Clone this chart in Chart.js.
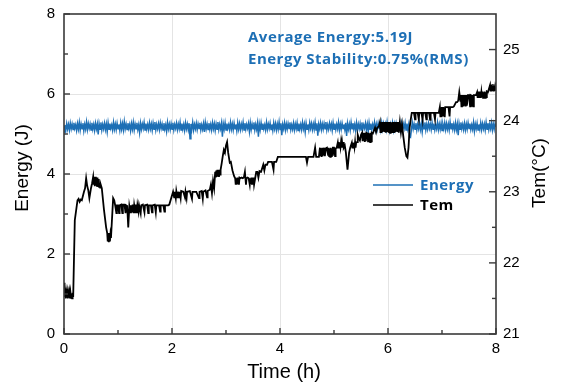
<!DOCTYPE html>
<html>
<head>
<meta charset="utf-8">
<script src="https://cdn.jsdelivr.net/npm/chart.js@4.4.1/dist/chart.umd.min.js"></script>
<style>
  html, body { margin: 0; padding: 0; background: #ffffff; }
  #wrap { width: 562px; height: 388px; }
</style>
</head>
<body>
<div id="wrap"><canvas id="chart" width="562" height="388"></canvas></div>
<script>
// Pulse energy log: one reading per minute over 8 hours (J)
const energyIntervalHours = 1 / 60;
const energyValues = [
  5.05, 5.22, 5.09, 5.26, 5.12, 5.24, 5.10, 5.27, 5.13, 5.25,
  5.11, 5.28, 5.14, 5.23, 5.09, 5.26, 5.12, 5.29, 5.10, 5.25,
  5.13, 5.27, 5.08, 5.24, 5.12, 5.30, 5.11, 5.26, 5.14, 5.25,
  5.10, 5.28, 5.12, 5.24, 5.09, 5.27, 5.13, 5.25, 4.99, 5.26,
  5.12, 5.29, 5.10, 5.24, 5.13, 5.27, 5.11, 5.25, 5.06, 5.28,
  5.12, 5.26, 5.14, 5.23, 5.10, 5.29, 5.12, 5.25, 5.11, 5.27,
  5.13, 5.24, 5.09, 5.28, 5.12, 5.26, 5.10, 5.31, 5.13, 5.25,
  5.11, 5.27, 5.14, 5.24, 5.08, 5.26, 5.12, 5.29, 5.10, 5.25,
  5.13, 5.28, 5.11, 5.23, 5.04, 5.27, 5.12, 5.25, 5.14, 5.29,
  5.10, 5.26, 5.12, 5.24, 5.11, 5.28, 5.13, 5.25, 5.09, 5.27,
  5.12, 5.30, 5.10, 5.24, 5.13, 5.26, 5.11, 5.28, 5.14, 5.25,
  5.10, 5.27, 5.12, 5.23, 5.07, 5.29, 5.13, 5.25, 5.11, 5.26,
  5.12, 5.28, 5.10, 5.24, 5.14, 5.27, 5.11, 5.25, 5.13, 5.29,
  5.10, 5.26, 5.12, 5.24, 5.09, 5.28, 5.13, 5.25, 5.11, 5.27,
  4.88, 5.25, 5.12, 5.29, 5.10, 5.24, 5.13, 5.27, 5.11, 5.25,
  5.14, 5.28, 5.10, 5.23, 5.12, 5.26, 5.05, 5.29, 5.13, 5.25,
  5.11, 5.27, 5.12, 5.24, 5.10, 5.28, 5.13, 5.26, 5.09, 5.25,
  5.12, 5.30, 5.11, 5.24, 5.13, 5.27, 4.93, 5.25, 5.12, 5.28,
  5.10, 5.26, 5.14, 5.23, 5.11, 5.29, 5.12, 5.25, 5.10, 5.27,
  5.13, 5.24, 5.08, 5.28, 5.12, 5.26, 5.11, 5.25, 5.13, 5.29,
  5.10, 5.27, 5.12, 5.24, 5.14, 5.26, 5.06, 5.28, 5.11, 5.25,
  5.13, 5.29, 5.10, 5.24, 5.12, 5.27, 4.93, 5.25, 5.11, 5.28,
  5.12, 5.26, 5.13, 5.23, 5.10, 5.29, 5.12, 5.25, 5.14, 5.27,
  5.11, 5.24, 5.09, 5.28, 5.13, 5.26, 5.10, 5.25, 5.12, 5.30,
  5.11, 5.27, 4.97, 5.24, 5.13, 5.28, 5.10, 5.25, 5.12, 5.26,
  5.14, 5.29, 5.11, 5.23, 5.12, 5.27, 5.10, 5.25, 5.13, 5.28,
  5.09, 5.26, 5.12, 5.24, 5.11, 5.29, 5.13, 5.25, 5.05, 5.27,
  5.12, 5.24, 5.10, 5.28, 5.14, 5.26, 5.11, 5.25, 5.12, 5.29,
  5.10, 5.27, 4.96, 5.24, 5.13, 5.28, 5.11, 5.25, 5.12, 5.26,
  5.13, 5.30, 5.10, 5.23, 5.12, 5.27, 5.14, 5.25, 5.09, 5.28,
  5.12, 5.26, 5.11, 5.24, 5.13, 5.29, 5.10, 5.25, 5.12, 5.27,
  5.14, 5.24, 5.11, 5.28, 4.95, 5.26, 5.12, 5.25, 5.10, 5.29,
  5.13, 5.27, 5.12, 5.24, 5.09, 5.28, 5.11, 5.25, 5.13, 5.26,
  5.10, 5.29, 5.12, 5.23, 5.14, 5.27, 5.11, 5.25, 5.06, 5.28,
  5.12, 5.26, 5.10, 5.24, 5.13, 5.29, 5.11, 5.25, 5.12, 5.27,
  5.14, 5.24, 5.10, 5.28, 5.12, 5.26, 5.13, 5.25, 5.11, 5.30,
  5.12, 5.27, 5.09, 5.24, 5.13, 5.28, 5.10, 5.25, 5.12, 5.26,
  5.11, 5.29, 5.13, 5.23, 5.10, 5.27, 5.12, 5.25, 5.14, 5.28,
  5.10, 5.26, 5.12, 5.24, 4.94, 4.92, 5.11, 5.29, 5.13, 5.25,
  5.12, 5.27, 5.10, 5.24, 5.13, 5.28, 5.11, 5.25, 5.05, 5.26,
  5.13, 5.29, 5.10, 5.24, 5.12, 5.27, 5.14, 5.25, 5.11, 5.28,
  5.12, 5.26, 5.10, 5.23, 5.13, 5.29, 5.11, 5.25, 5.12, 5.27,
  5.09, 5.24, 5.13, 5.28, 5.11, 5.26, 5.12, 5.25, 5.10, 5.30,
  5.13, 5.27, 5.12, 5.24, 5.10, 5.28, 5.11, 5.25, 4.97, 5.26,
  5.12, 5.29, 5.13, 5.24, 5.11, 5.27, 5.10, 5.25, 5.12, 5.28,
  5.14, 5.26, 5.11, 5.23, 5.12, 5.29, 5.07, 5.25, 5.13, 5.27,
  5.10, 5.24, 5.12, 5.28, 5.11, 5.26, 5.13, 5.25, 5.10, 5.29,
  5.12, 5.27, 5.11, 5.24, 5.13, 5.28, 5.10, 5.25, 5.12, 5.26,
  5.18
];

// Room temperature log: time (h) and temperature (°C)
const temTime = [
  0.00, 0.01, 0.02, 0.03, 0.04, 0.05, 0.06, 0.07, 0.08, 0.09, 0.10, 0.11, 0.12, 0.13, 0.14, 0.15, 0.16, 0.17,
  0.20, 0.25, 0.27, 0.29, 0.31, 0.33, 0.37, 0.39, 0.41, 0.43, 0.45, 0.47, 0.50, 0.52, 0.54,
  0.55, 0.56, 0.57, 0.58, 0.59, 0.60, 0.61, 0.62, 0.63, 0.64, 0.65, 0.66, 0.67, 0.68, 0.70,
  0.74, 0.78, 0.80, 0.81, 0.82, 0.83, 0.84, 0.85, 0.86, 0.87, 0.91,
  0.93, 0.95, 0.97, 0.98, 1.00, 1.02, 1.03, 1.06, 1.08, 1.09, 1.12, 1.14, 1.15, 1.17, 1.19, 1.21,
  1.23, 1.24, 1.26, 1.27, 1.29, 1.30, 1.32, 1.33, 1.35, 1.36, 1.38, 1.39, 1.42, 1.43, 1.46, 1.49,
  1.50, 1.54, 1.56, 1.57, 1.61, 1.63, 1.64, 1.68, 1.70, 1.71, 1.76, 1.78, 1.79, 1.84, 1.86, 1.87, 1.93,
  1.95, 2.02, 2.04, 2.05, 2.07, 2.08, 2.10, 2.11, 2.13, 2.14, 2.16, 2.17, 2.21, 2.24, 2.25, 2.27,
  2.28, 2.33, 2.37, 2.38, 2.45, 2.50, 2.51, 2.55, 2.57, 2.58, 2.62, 2.65, 2.66, 2.70,
  2.72, 2.74, 2.76, 2.78, 2.80, 2.81, 2.82, 2.83, 2.84, 2.85, 2.86, 2.87, 2.88, 2.89, 2.90,
  2.92, 2.94, 2.96, 2.98, 3.00, 3.02, 3.04, 3.07, 3.09, 3.12, 3.15, 3.17,
  3.18, 3.19, 3.20, 3.21, 3.22, 3.23, 3.24, 3.25, 3.27, 3.29, 3.31, 3.33, 3.35, 3.36, 3.37, 3.38,
  3.40, 3.42, 3.44, 3.45, 3.46, 3.47, 3.48, 3.49, 3.50, 3.51, 3.52, 3.54, 3.56, 3.58, 3.60, 3.62,
  3.65, 3.69, 3.71, 3.73, 3.76, 3.78, 3.82, 3.85, 3.88, 3.89, 3.93, 3.96, 4.00,
  4.05, 4.20, 4.35, 4.48, 4.50, 4.52, 4.62, 4.65, 4.67, 4.72, 4.74, 4.75, 4.76, 4.77, 4.78, 4.79,
  4.80, 4.81, 4.82, 4.83, 4.85, 4.87, 4.89, 4.90, 4.91, 4.92, 4.93, 4.94, 4.95, 4.96, 4.97, 4.98,
  5.00, 5.02, 5.03, 5.05, 5.07, 5.08, 5.09, 5.10, 5.11, 5.12, 5.13, 5.14, 5.15, 5.16, 5.17, 5.18,
  5.20, 5.22, 5.25, 5.28, 5.30, 5.33, 5.34, 5.35, 5.36, 5.37, 5.38, 5.39, 5.40, 5.41, 5.43,
  5.44, 5.46, 5.48, 5.50, 5.52, 5.53, 5.54, 5.55, 5.56, 5.57, 5.58, 5.59, 5.60, 5.62, 5.63, 5.64,
  5.65, 5.66, 5.67, 5.68, 5.69, 5.70, 5.72, 5.76, 5.78, 5.80, 5.83,
  5.85, 5.86, 5.87, 5.88, 5.89, 5.90, 5.91, 5.92, 5.93, 5.94, 5.95, 5.96, 5.97, 5.98, 5.99, 6.00,
  6.01, 6.02, 6.03, 6.04, 6.05, 6.06, 6.07, 6.08, 6.09, 6.10, 6.11, 6.12, 6.13, 6.14, 6.15, 6.16,
  6.17, 6.18, 6.19, 6.20, 6.22, 6.24, 6.26, 6.28, 6.31, 6.34, 6.36, 6.38, 6.40, 6.42, 6.44,
  6.48, 6.50, 6.51, 6.55, 6.57, 6.58, 6.62, 6.64, 6.65, 6.69, 6.71, 6.72, 6.76, 6.78, 6.79,
  6.85, 6.87, 6.88, 6.94, 6.96,
  6.97, 6.98, 6.99, 7.00, 7.01, 7.02, 7.03, 7.04, 7.05, 7.06, 7.08, 7.10, 7.12, 7.14, 7.15, 7.17,
  7.20, 7.22, 7.26, 7.28, 7.30, 7.32, 7.34, 7.35, 7.36, 7.37, 7.38, 7.39, 7.40, 7.41, 7.42, 7.43,
  7.44, 7.45, 7.46, 7.48, 7.50, 7.52, 7.53, 7.55, 7.56, 7.57, 7.58, 7.59, 7.61, 7.63,
  7.65, 7.66, 7.67, 7.68, 7.69, 7.70, 7.71, 7.72, 7.73, 7.74, 7.75, 7.76, 7.77, 7.78, 7.79, 7.80,
  7.81, 7.82, 7.83, 7.85, 7.87, 7.89, 7.90, 7.91, 7.92, 7.93, 7.94, 7.95, 7.96, 7.97, 7.98, 7.99, 8.00
];
const temValues = [
  21.72, 21.52, 21.58, 21.50, 21.58, 21.51, 21.58, 21.50, 21.57, 21.51, 21.58, 21.50, 21.58, 21.51, 21.57, 21.50, 21.58, 21.52,
  22.60, 22.88, 22.90, 22.86, 22.89, 22.88, 23.00, 23.05, 23.19, 23.08, 23.02, 22.91, 23.05, 23.12, 23.21,
  23.10, 23.20, 23.08, 23.21, 23.09, 23.19, 23.07, 23.20, 23.08, 23.18, 23.07, 23.12, 23.06, 23.10, 23.05,
  22.75, 22.50, 22.42, 22.30, 22.42, 22.29, 22.41, 22.30, 22.40, 22.35, 22.91,
  22.88, 22.80, 22.70, 22.81, 22.81, 22.70, 22.81, 22.82, 22.70, 22.82, 22.82, 22.70, 22.81, 22.80, 22.50, 22.80,
  22.71, 22.81, 22.72, 22.82, 22.70, 22.81, 22.71, 22.82, 22.70, 22.81, 22.72, 22.81, 22.70, 22.81, 22.82, 22.71,
  22.81, 22.82, 22.70, 22.81, 22.81, 22.71, 22.81, 22.82, 22.71, 22.81, 22.81, 22.72, 22.81, 22.81, 22.72, 22.81, 22.81,
  22.82, 23.00, 22.92, 23.00, 22.91, 23.01, 22.92, 23.00, 22.92, 23.00, 22.91, 23.01, 23.00, 22.92, 23.00, 22.91,
  23.00, 23.01, 22.90, 23.00, 23.00, 22.91, 23.00, 23.01, 22.90, 23.00, 23.02, 22.92, 23.01, 23.03,
  23.10, 22.98, 23.15, 23.05, 23.28, 23.20, 23.30, 23.21, 23.31, 23.22, 23.30, 23.21, 23.31, 23.24, 23.31,
  23.40, 23.50, 23.59, 23.55, 23.65, 23.70, 23.55, 23.41, 23.42, 23.30, 23.22, 23.19,
  23.10, 23.19, 23.10, 23.20, 23.11, 23.19, 23.10, 23.20, 23.19, 23.20, 23.19, 23.20, 23.28, 23.19, 23.10, 23.19,
  23.20, 23.19, 23.10, 23.19, 23.11, 23.20, 23.10, 23.19, 23.11, 23.20, 23.10, 23.19, 23.28, 23.28, 23.20, 23.29,
  23.28, 23.38, 23.30, 23.38, 23.38, 23.42, 23.42, 23.42, 23.31, 23.42, 23.42, 23.49, 23.49,
  23.49, 23.49, 23.49, 23.49, 23.41, 23.49, 23.49, 23.62, 23.49, 23.49, 23.62, 23.50, 23.61, 23.49, 23.62, 23.50,
  23.61, 23.52, 23.62, 23.50, 23.61, 23.62, 23.52, 23.62, 23.50, 23.61, 23.49, 23.62, 23.50, 23.61, 23.52, 23.62,
  23.62, 23.50, 23.61, 23.62, 23.69, 23.62, 23.70, 23.62, 23.69, 23.63, 23.70, 23.62, 23.69, 23.62, 23.70, 23.62,
  23.65, 23.55, 23.31, 23.55, 23.62, 23.69, 23.62, 23.69, 23.62, 23.69, 23.63, 23.70, 23.62, 23.69, 23.70,
  23.80, 23.75, 23.72, 23.80, 23.83, 23.71, 23.83, 23.72, 23.82, 23.70, 23.83, 23.71, 23.83, 23.82, 23.71, 23.83,
  23.72, 23.82, 23.70, 23.83, 23.71, 23.83, 23.82, 23.90, 23.84, 23.90, 23.92,
  23.98, 23.84, 23.98, 23.83, 23.98, 23.84, 23.97, 23.85, 23.98, 23.84, 23.98, 23.83, 23.98, 23.84, 23.97, 23.85,
  23.98, 23.84, 23.98, 23.83, 23.98, 23.84, 23.97, 23.85, 23.98, 23.84, 23.98, 23.83, 23.98, 23.84, 23.97, 23.85,
  23.98, 23.84, 23.98, 23.83, 23.98, 23.84, 23.95, 23.80, 23.62, 23.50, 23.48, 23.62, 23.90, 24.01, 24.11,
  24.11, 24.02, 24.11, 24.11, 24.02, 24.11, 24.11, 24.01, 24.11, 24.11, 24.02, 24.11, 24.11, 24.01, 24.11,
  24.11, 24.02, 24.11, 24.11, 24.19,
  24.06, 24.19, 24.05, 24.19, 24.06, 24.19, 24.06, 24.18, 24.05, 24.19, 24.19, 24.19, 24.19, 24.06, 24.19, 24.19,
  24.19, 24.20, 24.26, 24.26, 24.28, 24.40, 24.28, 24.36, 24.20, 24.36, 24.21, 24.36, 24.20, 24.35, 24.21, 24.36,
  24.20, 24.36, 24.21, 24.36, 24.36, 24.20, 24.36, 24.35, 24.21, 24.36, 24.20, 24.36, 24.36, 24.36,
  24.40, 24.32, 24.41, 24.32, 24.40, 24.32, 24.41, 24.32, 24.40, 24.33, 24.41, 24.32, 24.40, 24.32, 24.41, 24.32,
  24.40, 24.33, 24.41, 24.40, 24.45, 24.50, 24.41, 24.50, 24.41, 24.51, 24.42, 24.50, 24.41, 24.50, 24.42, 24.50, 24.48
];

// Axis ticks
const timeTicks = [0, 2, 4, 6, 8];
const timeMinorTicks = [1, 3, 5, 7];
const energyTicks = [0, 2, 4, 6, 8];
const energyMinorTicks = [1, 3, 5, 7];
const temTicks = [21, 22, 23, 24, 25];
const temMinorTicks = [21.5, 22.5, 23.5, 24.5];

const notes = ['Average Energy:5.19J', 'Energy Stability:0.75%(RMS)'];
const seriesNames = ['Energy', 'Tem'];

const BLUE = '#1d6fb5';
const AXIS = '#3a3a3a';
const GRID = '#e4e4e4';
const TICK_FONT = { family: '"Liberation Sans", Arial, sans-serif', size: 15 };
const NOTE_FONT = 'bold 15px "Open Sans", "Noto Sans", sans-serif';

const energyPoints = energyValues.map((v, i) => ({ x: i * energyIntervalHours, y: v }));
const temPoints = temValues.map((v, i) => ({ x: temTime[i], y: v }));

function fixTicks(values) {
  return scale => { scale.ticks = values.map(v => ({ value: v })); };
}

// Keep the plot box fixed: each axis gets a set thickness and no extra label overhang
function fixSize(size) {
  return scale => {
    if (scale.isHorizontal()) { scale.height = size; scale.paddingLeft = 0; scale.paddingRight = 0; }
    else { scale.width = size; scale.paddingTop = 0; scale.paddingBottom = 0; }
  };
}

// Frame, inward tick marks, axis titles, legend and notes
const decorations = {
  id: 'decorations',
  afterDraw(chart) {
    const { ctx, chartArea: a, scales } = chart;
    ctx.save();
    // frame
    ctx.strokeStyle = AXIS;
    ctx.lineWidth = 1.6;
    ctx.strokeRect(a.left, a.top, a.right - a.left, a.bottom - a.top);

    // inward ticks
    ctx.lineWidth = 1.4;
    const seg = (x1, y1, x2, y2) => { ctx.beginPath(); ctx.moveTo(x1, y1); ctx.lineTo(x2, y2); ctx.stroke(); };
    timeTicks.forEach(v => { const x = scales.x.getPixelForValue(v); seg(x, a.bottom, x, a.bottom - 6); });
    timeMinorTicks.forEach(v => { const x = scales.x.getPixelForValue(v); seg(x, a.bottom, x, a.bottom - 4); });
    energyTicks.forEach(v => { const y = scales.y.getPixelForValue(v); seg(a.left, y, a.left + 6, y); });
    energyMinorTicks.forEach(v => { const y = scales.y.getPixelForValue(v); seg(a.left, y, a.left + 4, y); });
    temTicks.forEach(v => { const y = scales.y2.getPixelForValue(v); seg(a.right, y, a.right - 7, y); });
    temMinorTicks.forEach(v => { const y = scales.y2.getPixelForValue(v); seg(a.right, y, a.right - 4, y); });

    // axis titles
    ctx.fillStyle = '#000';
    ctx.font = '20px "Liberation Sans", Arial, sans-serif';
    ctx.textAlign = 'center';
    ctx.textBaseline = 'alphabetic';
    ctx.fillText('Time (h)', (a.left + a.right) / 2 + 4, 378);

    ctx.font = '19px "Liberation Sans", Arial, sans-serif';
    ctx.textBaseline = 'middle';
    ctx.save();
    ctx.translate(23, 168);
    ctx.rotate(-Math.PI / 2);
    ctx.fillText('Energy (J)', 0, 0);
    ctx.restore();
    ctx.save();
    ctx.translate(540, 173);
    ctx.rotate(-Math.PI / 2);
    ctx.fillText('Tem(°C)', 0, 0);
    ctx.restore();

    // notes
    ctx.font = NOTE_FONT;
    if ('letterSpacing' in ctx) ctx.letterSpacing = '0.5px';
    ctx.textAlign = 'left';
    ctx.textBaseline = 'alphabetic';
    ctx.fillStyle = BLUE;
    ctx.fillText(notes[0], 248, 42);
    ctx.fillText(notes[1], 248, 64);

    // legend
    const legend = [
      { name: seriesNames[0], color: BLUE, y: 185 },
      { name: seriesNames[1], color: '#000', y: 205 }
    ];
    legend.forEach(item => {
      ctx.strokeStyle = item.color;
      ctx.lineWidth = 1.5;
      seg(373, item.y, 413, item.y);
      ctx.fillStyle = item.color;
      ctx.fillText(item.name, 420, item.y + 5);
    });
    ctx.restore();
  }
};

new Chart(document.getElementById('chart'), {
  type: 'line',
  data: {
    datasets: [
      {
        label: seriesNames[1],
        data: temPoints,
        yAxisID: 'y2',
        borderColor: '#000000',
        borderWidth: 1.8,
        pointRadius: 0,
        tension: 0,
        order: 1
      },
      {
        label: seriesNames[0],
        data: energyPoints,
        yAxisID: 'y',
        borderColor: BLUE,
        borderWidth: 1.5,
        pointRadius: 0,
        tension: 0,
        order: 2
      }
    ]
  },
  options: {
    responsive: false,
    devicePixelRatio: 1,
    animation: false,
    layout: { padding: { top: 14, left: 0, right: 0, bottom: 0 } },
    plugins: { legend: { display: false }, tooltip: { enabled: false } },
    scales: {
      x: {
        type: 'linear',
        min: 0, max: 8,
        afterBuildTicks: fixTicks(timeTicks),
        afterFit: fixSize(54),
        ticks: { font: TICK_FONT, color: '#000', padding: 6, maxRotation: 0 },
        grid: {
          drawTicks: false,
          color: c => (c.tick && (c.tick.value === 0 || c.tick.value === 8)) ? 'rgba(0,0,0,0)' : GRID,
          lineWidth: 1
        },
        border: { display: false }
      },
      y: {
        position: 'left',
        min: 0, max: 8,
        afterBuildTicks: fixTicks(energyTicks),
        afterFit: fixSize(64),
        ticks: { font: TICK_FONT, color: '#000', padding: 9 },
        grid: {
          drawTicks: false,
          color: c => (c.tick && (c.tick.value === 0 || c.tick.value === 8)) ? 'rgba(0,0,0,0)' : GRID,
          lineWidth: 1
        },
        border: { display: false }
      },
      y2: {
        position: 'right',
        min: 21, max: 25.5,
        afterBuildTicks: fixTicks(temTicks),
        afterFit: fixSize(66),
        ticks: { font: TICK_FONT, color: '#000', padding: 7 },
        grid: { display: false, drawTicks: false },
        border: { display: false }
      }
    }
  },
  plugins: [decorations]
});
</script>
</body>
</html>
